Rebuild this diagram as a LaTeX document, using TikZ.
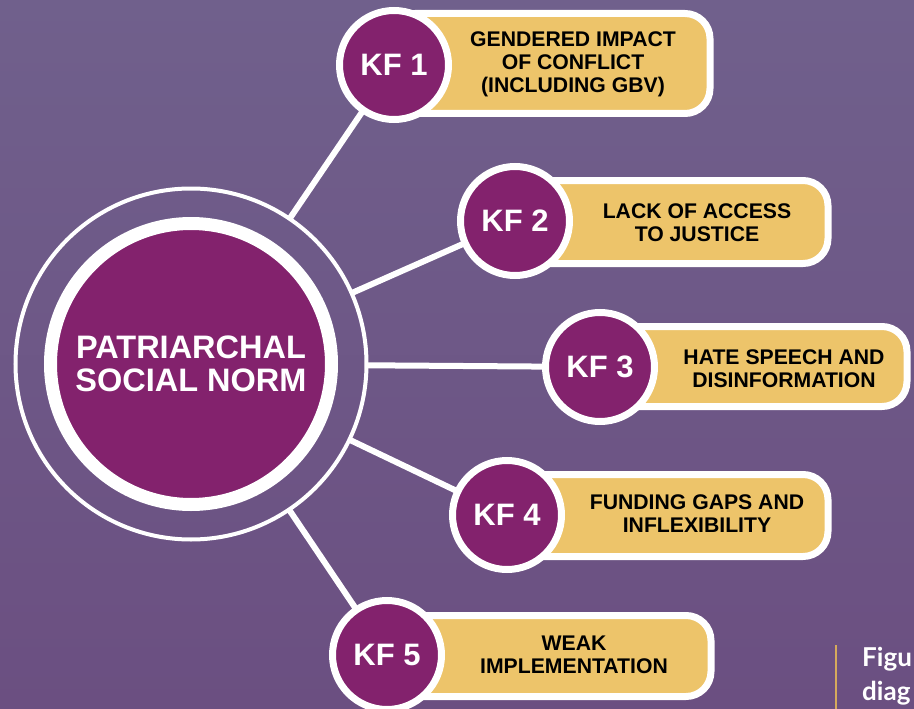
\documentclass[tikz,border=0pt]{standalone}
\usepackage{fontspec}
\setmainfont{Liberation Sans}
\newfontfamily\capfont{Lato}

\definecolor{bgtop}{RGB}{112,96,140}
\definecolor{bgbot}{RGB}{107,79,129}
\definecolor{plum}{RGB}{131,34,109}
\definecolor{mustard}{RGB}{237,196,106}
\definecolor{rulegold}{RGB}{214,170,92}

\begin{document}
\begin{tikzpicture}[x=1pt, y=-1pt,
        spoke/.style={draw=white, line width=6, shorten <=-2, shorten >=-3},
        kfdot/.style={circle, fill=plum, draw=white, line width=7, minimum size=109, inner sep=0,
                      text=white, font=\fontsize{31}{31}\selectfont\bfseries},
        pill/.style={rectangle, rounded corners=25, fill=mustard, draw=white, line width=7,
                     inner sep=0, anchor=east},
        pilltext/.style={align=center, inner sep=0, font=\fontsize{21.2}{23}\selectfont\bfseries}]
                    % \helpgrid{3}{3}

                    \shade[top color=bgtop, bottom color=bgbot] (0,0) rectangle (914,709);
                    \useasboundingbox (0,0) rectangle (914,709);

                    % hub: thin ring round the big disk
                    \node[circle, draw=white, line width=4, minimum size=351, inner sep=0] (hub) at (191,364) {};
                    \node[circle, fill=plum, draw=white, line width=13, minimum size=281, inner sep=0,
                          text=white, align=center, font=\fontsize{32.5}{33}\selectfont\bfseries]
                          (norm) at (hub) {PATRIARCHAL\\SOCIAL NORM};

                    \node[pill, minimum width=320, minimum height=100] (box1) at (713.5,63.5) {};
                    \node[pill, minimum width=317, minimum height=83]  (box2) at (831.5,222) {};
                    \node[pill, minimum width=311, minimum height=80]  (box3) at (910.5,366.5) {};
                    \node[pill, minimum width=325, minimum height=82]  (box4) at (831.5,515.5) {};
                    \node[pill, minimum width=328, minimum height=81]  (box5) at (714.5,656) {};

                    \node[kfdot] (kf1) at (394,65)  {KF 1};
                    \node[kfdot] (kf2) at (515,221) {KF 2};
                    \node[kfdot] (kf3) at (600,367) {KF 3};
                    \node[kfdot] (kf4) at (507,515) {KF 4};
                    \node[kfdot] (kf5) at (387,655) {KF 5};

                    \node[pilltext] (txt1) at (573,64)    {GENDERED IMPACT\\OF CONFLICT\\(INCLUDING GBV)};
                    \node[pilltext] (txt2) at (697,222.5) {LACK OF ACCESS\\TO JUSTICE};
                    \node[pilltext] (txt3) at (784,368.5) {HATE SPEECH AND\\DISINFORMATION};
                    \node[pilltext] (txt4) at (697,514)   {FUNDING GAPS AND\\INFLEXIBILITY};
                    \node[pilltext] (txt5) at (574,655)   {WEAK\\IMPLEMENTATION};

                    \draw[spoke] (hub) -- (kf1);
                    \draw[spoke] (hub) -- (kf2);
                    \draw[spoke] (hub) -- (kf3);
                    \draw[spoke] (hub) -- (kf4);
                    \draw[spoke] (hub) -- (kf5);

                    % caption corner
                    \draw[draw=rulegold, line width=2] (836,645) -- (836,709);
                    \node[anchor=base west, inner sep=0, text=white, font=\capfont\fontsize{26}{26}\selectfont\bfseries]
                          (fig) at (862,666) {Figu};
                    \node[anchor=base west, inner sep=0, text=white, font=\capfont\fontsize{26}{26}\selectfont\bfseries]
                          (diag) at (862,700) {diag};

                \end{tikzpicture}
\end{document}
